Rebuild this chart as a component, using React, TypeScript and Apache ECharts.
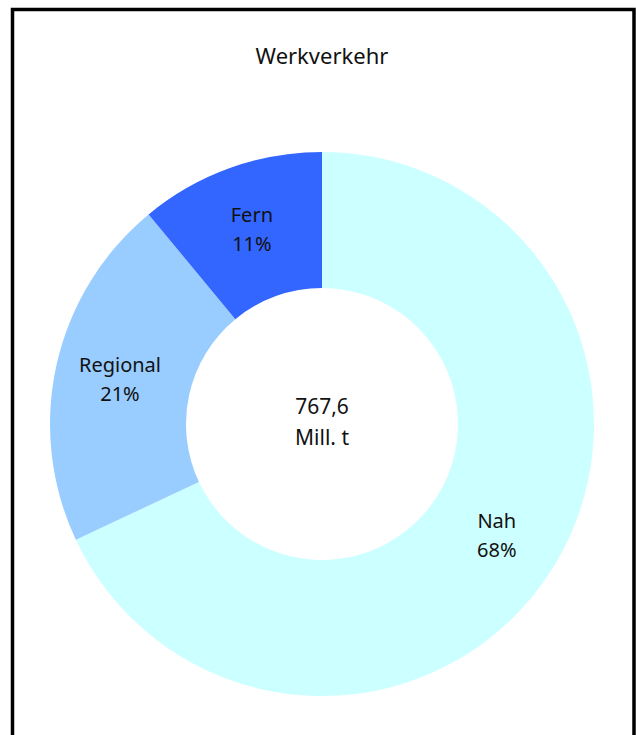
import React, { useEffect, useRef } from "react";
import * as echarts from "echarts";

const categories = ["Nah", "Regional", "Fern"];
const shares = [68, 21, 11];
const colors = ["#CCFFFF", "#99CCFF", "#3366FF"];
const titleText = "Werkverkehr";
const centerText = "767,6\nMill. t";

const FONT = "'Noto Sans', 'Open Sans', sans-serif";

export default function App() {
  const ref = useRef<HTMLDivElement>(null);
  useEffect(() => {
    if (!ref.current) return;
    const chart = echarts.init(ref.current, undefined, { renderer: "svg" });
    chart.setOption({
      animation: false,
      backgroundColor: "#ffffff",
      graphic: [
        {
          type: "rect",
          silent: true,
          z: 10,
          shape: { x: 12.5, y: 9.5, width: 621.5, height: 800 },
          style: { fill: "none", stroke: "#000", lineWidth: 3.5 },
        },
        {
          type: "text",
          x: 322,
          y: 55,
          style: {
            text: titleText,
            fill: "#111",
            font: `22px ${FONT}`,
            textAlign: "center",
            textVerticalAlign: "middle",
          },
        },
        {
          type: "text",
          x: 322,
          y: 421,
          style: {
            text: centerText,
            fill: "#111",
            font: `21px ${FONT}`,
            lineHeight: 31,
            textAlign: "center",
            textVerticalAlign: "middle",
          },
        },
      ],
      series: [
        {
          type: "pie",
          center: [322, 424],
          radius: [136, 272],
          startAngle: 90,
          clockwise: true,
          avoidLabelOverlap: false,
          label: {
            show: true,
            position: "inside",
            formatter: "{b}\n{c}%",
            color: "#111",
            fontFamily: FONT,
            fontSize: 20,
            lineHeight: 29,
          },
          labelLine: { show: false },
          itemStyle: { borderWidth: 0 },
          emphasis: { disabled: true },
          data: categories.map((c, i) => ({
            name: c,
            value: shares[i],
            itemStyle: { color: colors[i] },
          })),
        },
      ],
    });
    return () => chart.dispose();
  }, []);
  return (
    <div
      ref={ref}
      style={{ position: "fixed", left: 0, top: 0, width: 636, height: 735 }}
    />
  );
}
